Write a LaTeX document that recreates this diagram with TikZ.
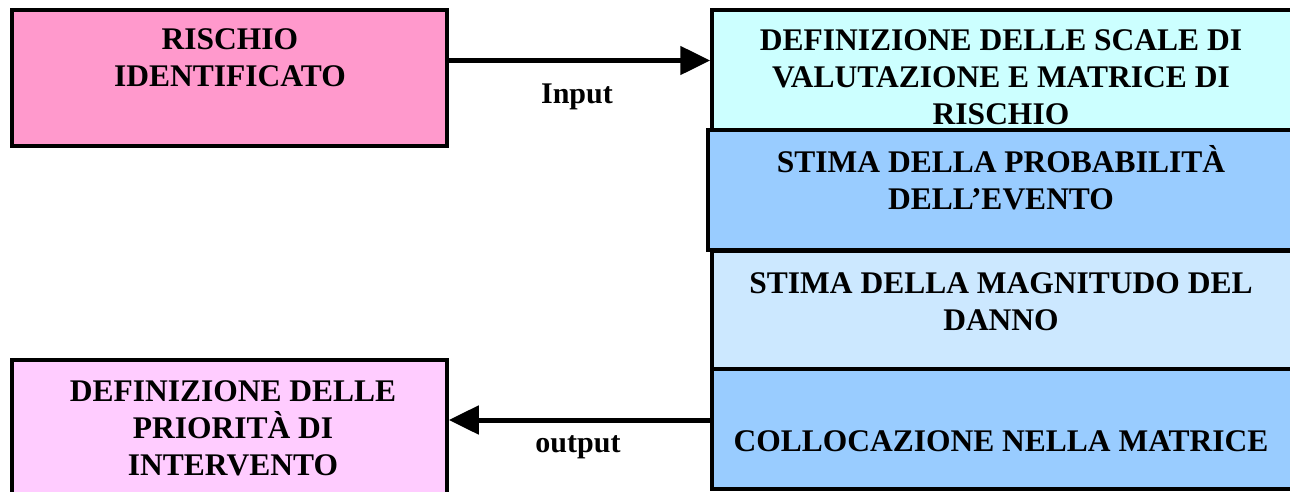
\documentclass[tikz,border=0pt]{standalone}
\usepackage{fontspec}
\setmainfont{Liberation Serif}
\usetikzlibrary{arrows.meta}
\definecolor{pinkbox}{HTML}{FF99CC}
\definecolor{cyanbox}{HTML}{CCFFFF}
\definecolor{bluebox}{HTML}{99CCFF}
\definecolor{lightblue}{HTML}{CCE8FF}
\definecolor{lilac}{HTML}{FFCCFF}
\begin{document}
\begin{tikzpicture}[x=1pt,y=-1pt,
  box/.style={draw=black, line width=3.5pt, rectangle, inner sep=0pt},
  txt/.style={font=\bfseries\fontsize{31.5}{37}\selectfont, anchor=base, inner sep=0pt, align=center},
  lbl/.style={font=\bfseries\fontsize{30}{36}\selectfont, anchor=base, inner sep=0pt},
  arr/.style={line width=5pt, -{Triangle[length=30pt,width=28pt]}}]
\clip (0,0) rectangle (1290,491);
\fill[white] (0,0) rectangle (1290,491);
% boxes
\node[box, fill=pinkbox, minimum width=435pt, minimum height=136pt] (ris) at (229.5,78) {};
\node[box, fill=cyanbox, minimum width=588pt, minimum height=120pt] (A) at (1006,70) {};
\node[box, fill=lightblue, minimum width=588pt, minimum height=118pt] (C) at (1006,310) {};
\node[box, fill=bluebox, minimum width=588pt, minimum height=120pt] (D) at (1006,429) {};
\node[box, fill=bluebox, minimum width=592pt, minimum height=120pt] (B) at (1004,190) {};
\node[box, fill=lilac, minimum width=435pt, minimum height=160pt] (pri) at (229.5,440) {};
% texts (anchor = baseline of last line)
\node[txt] (tris) at (230,86) {RISCHIO\\IDENTIFICATO};
\node[txt] (tA) at (1001,124) {DEFINIZIONE DELLE SCALE DI\\VALUTAZIONE E MATRICE DI\\RISCHIO};
\node[txt] (tB) at (1001,209) {STIMA DELLA PROBABILITÀ\\DELL’EVENTO};
\node[txt] (tC) at (1001,330) {STIMA DELLA MAGNITUDO DEL\\DANNO};
\node[txt] (tD) at (1001,451) {COLLOCAZIONE NELLA MATRICE};
\node[txt] (tpri) at (233,475) {DEFINIZIONE DELLE\\PRIORITÀ DI\\INTERVENTO};
% connectors
\coordinate (inY) at (0,60.5);
\coordinate (outY) at (0,420);
\draw[arr] (ris.east |- inY) -- (A.west |- inY);
\draw[arr] (D.west |- outY) -- (pri.east |- outY);
\node[lbl] (lin) at (577,103) {Input};
\node[lbl] (lout) at (578,452) {output};
\end{tikzpicture}
\end{document}
